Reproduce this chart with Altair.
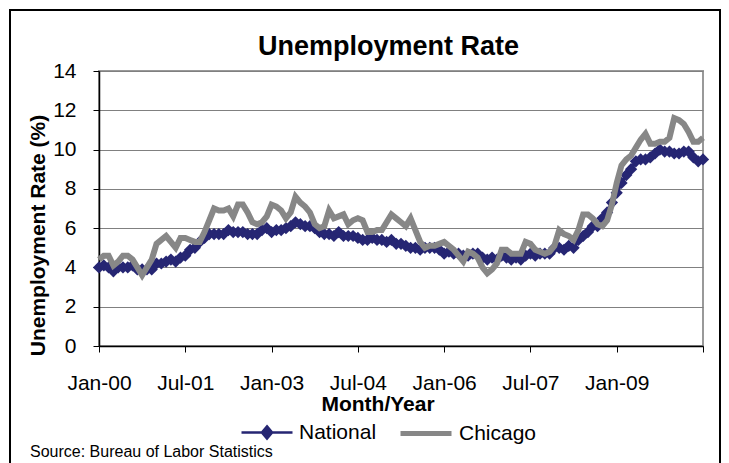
import json
import altair as alt
import pandas as pd

# ---------------- data ----------------
# monthly index: 0 = Jan-00 ... 126 = Jul-10
months = list(range(127))

national = [
    4.0, 4.1, 4.0, 3.8, 4.0, 4.0, 4.0, 4.1, 3.9, 3.9, 3.9, 3.9,
    4.2, 4.2, 4.3, 4.4, 4.3, 4.5, 4.6, 4.9, 5.0, 5.3, 5.5, 5.7,
    5.7, 5.7, 5.7, 5.9, 5.8, 5.8, 5.8, 5.7, 5.7, 5.7, 5.9, 6.0,
    5.8, 5.9, 5.9, 6.0, 6.1, 6.3, 6.2, 6.1, 6.1, 6.0, 5.8, 5.7,
    5.7, 5.6, 5.8, 5.6, 5.6, 5.6, 5.5, 5.4, 5.4, 5.5, 5.4, 5.4,
    5.3, 5.4, 5.2, 5.2, 5.1, 5.0, 5.0, 4.9, 5.0, 5.0, 5.0, 4.9,
    4.7, 4.8, 4.7, 4.7, 4.6, 4.6, 4.7, 4.7, 4.5, 4.4, 4.5, 4.4,
    4.6, 4.5, 4.4, 4.5, 4.4, 4.6, 4.7, 4.6, 4.7, 4.7, 4.7, 5.0,
    5.0, 4.9, 5.1, 5.0, 5.4, 5.6, 5.8, 6.1, 6.1, 6.5, 6.8, 7.3,
    7.8, 8.3, 8.7, 9.0, 9.4, 9.5, 9.5, 9.6, 9.8, 10.0, 9.9, 9.9,
    9.8, 9.8, 9.9, 9.9, 9.6, 9.4, 9.5,
]

chicago = [
    4.4, 4.6, 4.6, 4.1, 4.3, 4.6, 4.6, 4.4, 4.0, 3.6, 4.0, 4.4,
    5.2, 5.4, 5.6, 5.3, 5.0, 5.5, 5.5, 5.4, 5.3, 5.3, 5.8, 6.4,
    7.0, 6.9, 6.9, 7.0, 6.6, 7.2, 7.2, 6.8, 6.3, 6.2, 6.3, 6.6,
    7.2, 7.1, 6.9, 6.5, 6.8, 7.6, 7.3, 7.1, 6.8, 6.2, 6.0, 6.1,
    6.9, 6.5, 6.6, 6.7, 6.2, 6.4, 6.5, 6.4, 5.8, 5.8, 5.9, 5.9,
    6.3, 6.7, 6.5, 6.3, 6.1, 6.5, 5.9, 5.3, 5.0, 5.1, 5.1, 5.2,
    5.3, 5.1, 4.9, 4.6, 4.3, 4.8, 4.7, 4.5, 4.0, 3.7, 3.9, 4.2,
    4.9, 4.9, 4.7, 4.7, 4.7, 5.3, 5.2, 4.9, 4.8, 4.7, 4.8, 5.1,
    5.9, 5.7, 5.6, 5.4, 5.9, 6.7, 6.7, 6.5, 6.2, 6.1, 6.4, 7.2,
    8.3, 9.2, 9.5, 9.7, 10.1, 10.5, 10.8, 10.3, 10.3, 10.4, 10.4, 10.6,
    11.6, 11.5, 11.3, 10.9, 10.4, 10.4, 10.6,
]

series_names = ["National", "Chicago"]
tick_months = [0, 18, 36, 54, 72, 90, 108, 126]
tick_labels = ["Jan-00", "Jul-01", "Jan-03", "Jul-04", "Jan-06", "Jul-07", "Jan-09", ""]
y_ticks = [0, 2, 4, 6, 8, 10, 12, 14]

title_text = "Unemployment Rate"
x_title = "Month/Year"
y_title = "Unemployment Rate (%)"
source_text = "Source: Bureau of Labor Statistics"

# ---------------- styles ----------------
NAVY = "#262673"
GREY = "#878787"
FONT = "Liberation Sans"

nat_df = pd.DataFrame({"month": months, "rate": national, "series": series_names[0]})
chi_df = pd.DataFrame({"month": months, "rate": chicago, "series": series_names[1]})
one = pd.DataFrame({"k": [0]})

label_expr = json.dumps(tick_labels) + "[round(datum.value / 18)]"

x_enc = alt.X(
    "month:Q",
    scale=alt.Scale(domain=[0, 126], nice=False, zero=False),
    axis=alt.Axis(
        values=tick_months, tickCount=len(tick_months), labelExpr=label_expr, title=x_title, grid=False,
        tickSize=6, tickColor="black", tickWidth=1,
        domainColor="black", domainWidth=1.5,
        labelPadding=20, labelFontSize=21, labelFont=FONT, labelColor="black",
        labelFlush=False, labelOverlap=False,
        titleFontSize=21, titleFont=FONT, titleFontWeight="bold", titleColor="black",
        titleX=278.5, titleY=64, titleAlign="center", titleBaseline="alphabetic",
    ),
)
y_enc = alt.Y(
    "rate:Q",
    scale=alt.Scale(domain=[0, 14], nice=False),
    axis=alt.Axis(
        values=y_ticks, tickCount=len(y_ticks), title=y_title, grid=True,
        gridColor="#808080", gridWidth=1,
        tickSize=6, tickColor="black", tickWidth=1,
        domainColor="black", domainWidth=1.5,
        labelPadding=17, labelFontSize=21, labelFont=FONT, labelColor="black",
        labelOverlap=False, labelFlush=False,
        titleFontSize=21, titleFont=FONT, titleFontWeight="bold", titleColor="black",
        titleX=-55, titleY=164, titleAngle=270, titleAlign="center", titleBaseline="alphabetic",
    ),
)

NAT_SYMBOL = "M-1,0L1,0M0,-0.24L0.2,0L0,0.24L-0.2,0Z"

nat_line = alt.Chart(nat_df).mark_line(color=NAVY, strokeWidth=3.5).encode(x=x_enc, y=y_enc)

nat_pts = alt.Chart(nat_df).mark_point(shape="diamond", filled=True, size=150, opacity=1).encode(
    x="month:Q", y="rate:Q",
    color=alt.Color(
        "series:N",
        scale=alt.Scale(domain=[series_names[0]], range=[NAVY]),
        legend=alt.Legend(
            title=None, orient="none", legendX=141, legendY=334.5, direction="horizontal",
            symbolType=NAT_SYMBOL, symbolSize=2601, symbolStrokeColor=NAVY, symbolStrokeWidth=2.5,
            labelFontSize=21, labelFont=FONT, labelColor="black", labelOffset=5, padding=0,
        ),
    ),
)

chi_line = alt.Chart(chi_df).mark_line(strokeWidth=6).encode(
    x="month:Q", y="rate:Q",
    color=alt.Color(
        "series:N",
        scale=alt.Scale(domain=[series_names[1]], range=[GREY]),
        legend=alt.Legend(
            title=None, orient="none", legendX=299, legendY=334.5, direction="horizontal",
            symbolType="stroke", symbolSize=2601, symbolStrokeWidth=5,
            labelFontSize=21, labelFont=FONT, labelColor="black", labelOffset=5, padding=0,
        ),
    ),
)

title_mark = alt.Chart(one).mark_text(
    align="center", baseline="alphabetic", fontSize=27, font=FONT, fontWeight="bold", color="black"
).encode(x=alt.value(289.5), y=alt.value(-16), text=alt.value(title_text))

source_mark = alt.Chart(one).mark_text(
    align="left", baseline="alphabetic", fontSize=16, font=FONT, color="black"
).encode(x=alt.value(-69), y=alt.value(386), text=alt.value(source_text))

frame = alt.Chart(one).mark_rect(fillOpacity=0, stroke="black", strokeWidth=2).encode(
    x=alt.value(-89), x2=alt.value(621), y=alt.value(-61), y2=alt.value(420)
)

chart = (
    alt.layer(nat_line, nat_pts, chi_line, title_mark, source_mark, frame)
    .resolve_scale(color="independent")
    .properties(
        width=604, height=275,
        autosize=alt.AutoSizeParams(type="none"),
        padding={"left": 91, "top": 63, "right": 18, "bottom": 117},
        background="white",
    )
    .configure_view(stroke="#999999", strokeWidth=2)
)

chart.save("out.html", embed_options={"renderer": "svg", "actions": False})
